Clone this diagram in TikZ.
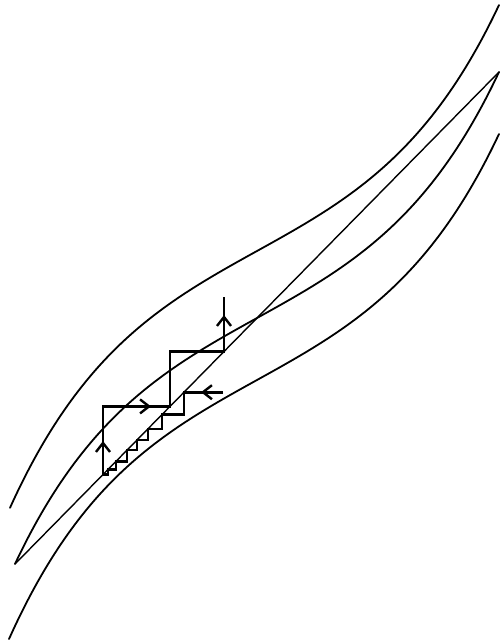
\documentclass[tikz,border=0pt]{standalone}
\usetikzlibrary{arrows.meta}
\begin{document}
\begin{tikzpicture}[x=1pt,y=-1pt,
  declare function={ww(\t)=(\t-257)/100;
    mid(\t)=318-(55.41*ww(\t)+6.32*ww(\t)*ww(\t)*ww(\t)+0.269*ww(\t)*ww(\t)*ww(\t)*ww(\t)*ww(\t));},
  curve/.style={line width=1.8pt, line join=round, line cap=round},
  diag/.style={line width=1.4pt, line cap=round},
  stair/.style={line width=2.9pt, line join=miter},
  smallstair/.style={line width=2.4pt, line join=miter},
  tipup/.style={line width=2.9pt, -{Straight Barb[length=9pt,width=14pt,line width=2.4pt]}}]
\useasboundingbox (0,0) rectangle (499,642);
% curves: f+eps, f, f-eps
\draw[curve] plot[domain=10:499, samples=150, smooth] (\x,{mid(\x)-67});
\draw[curve] plot[domain=15:499, samples=150, smooth] (\x,{mid(\x)});
\draw[curve] plot[domain=9:499, samples=150, smooth] (\x,{mid(\x)+62});
% diagonal
\coordinate (dl) at (15,{mid(15)});
\coordinate (dr) at (499,{mid(499)});
\draw[diag] (dl) -- (dr);
% big staircase
\coordinate (a0) at (103,474.5);
\coordinate (a1) at (103,406.4);
\coordinate (a2) at (170,406.4);
\coordinate (a3) at (170,351.5);
\coordinate (a4) at (224,351.5);
\coordinate (a5) at (224,297);
\draw[stair] (a0) -- (a1) -- (a2) -- (a3) -- (a4) -- (a5);
\draw[tipup] (103,462) -- (103,441);
\draw[tipup] (127,406.4) -- (151,406.4);
\draw[tipup] (224,338) -- (224,315);
% small staircase
\coordinate (b0) at (223,392.2);
\draw[smallstair] (b0) -- (184,392.2) -- (184,414.6) -- (162,414.6) -- (162,428.8) -- (148,428.8) -- (148,440) -- (137,440) -- (137,450.2) -- (127,450.2) -- (127,461.3) -- (116,461.3) -- (116,469.5) -- (108,469.5) -- (108,474.5) -- (a0);
\draw[stair] (b0) -- (184,392.2) -- (184,414.6);
\draw[tipup] (221,392.2) -- (201,392.2);
\end{tikzpicture}
\end{document}
